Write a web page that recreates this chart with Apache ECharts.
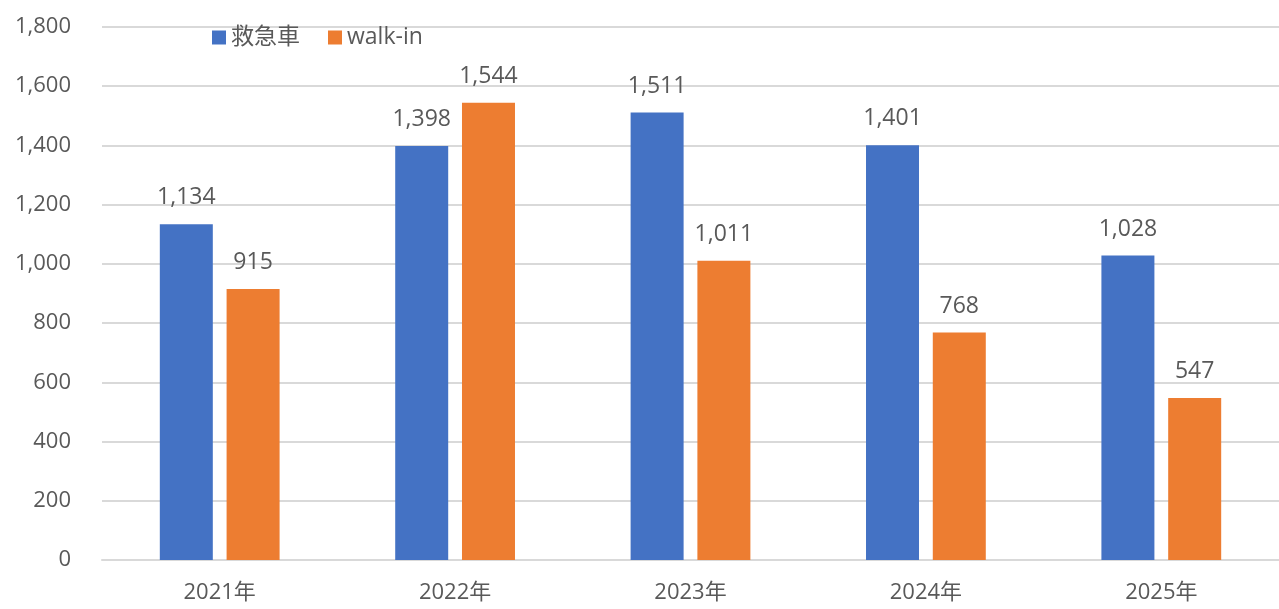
<!DOCTYPE html>
<html><head><meta charset="utf-8">
<script src="https://cdn.jsdelivr.net/npm/echarts@6/dist/echarts.min.js"></script>
<style>html,body{margin:0;padding:0;background:#fff}#c{width:1279px;height:609px}</style>
</head><body><div id="c"></div>
<script>
const categories = ['2021年','2022年','2023年','2024年','2025年'];
const ambulance = [1134, 1398, 1511, 1401, 1028];
const walkin = [915, 1544, 1011, 768, 547];
const yTicks = {min: 0, max: 1800, interval: 200};
const font = '"Segoe UI","Open Sans","Noto Sans CJK JP",sans-serif';
const chart = echarts.init(document.getElementById('c'));
const lbl = {show: true, position: 'top', distance: 15, color: '#595959', fontSize: 23, fontFamily: font,
  formatter: p => p.value.toLocaleString('en-US')};
chart.setOption({
  animation: false,
  textStyle: {fontFamily: font},
  legend: {
    left: 207, top: 21, itemWidth: 14, itemHeight: 14, itemGap: 28,
    textStyle: {color: '#595959', fontSize: 23, fontFamily: font},
    data: [{name: '救急車', icon: 'rect'}, {name: 'walk-in', icon: 'rect'}]
  },
  grid: {left: 102, right: -2, top: 27, bottom: 49},
  xAxis: {
    type: 'category', data: categories,
    axisLine: {lineStyle: {color: '#d9d9d9', width: 2}},
    axisTick: {show: false},
    axisLabel: {color: '#595959', fontSize: 22, margin: 22, fontFamily: font}
  },
  yAxis: {
    type: 'value', min: yTicks.min, max: yTicks.max, interval: yTicks.interval,
    axisLine: {show: false}, axisTick: {show: false},
    splitLine: {lineStyle: {color: '#d9d9d9', width: 2}},
    axisLabel: {color: '#595959', fontSize: 22, margin: 31, fontFamily: font,
      formatter: v => v.toLocaleString('en-US')}
  },
  series: [
    {name: '救急車', type: 'bar', data: ambulance, barWidth: 53, barGap: '26%',
     itemStyle: {color: '#4472C4'}, label: lbl},
    {name: 'walk-in', type: 'bar', data: walkin, barWidth: 53, barGap: '26%',
     itemStyle: {color: '#ED7D31'}, label: lbl}
  ]
});
</script></body></html>
